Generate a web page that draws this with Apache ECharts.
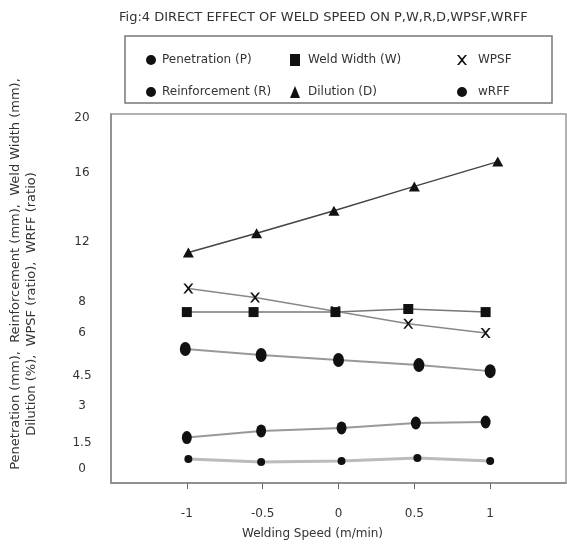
<!DOCTYPE html>
<html>
<head>
<meta charset="utf-8">
<script src="https://cdn.jsdelivr.net/npm/echarts@6/dist/echarts.min.js"></script>
<style>
  html, body { margin: 0; padding: 0; background: #fff; }
  #chart { width: 567px; height: 546px; }
</style>
</head>
<body>
<div id="chart"></div>
<script>
// tick labels of the y axis (the figure uses an uneven scale)
var yTickVals = [0, 1.5, 3, 4.5, 6, 8, 12, 16, 20];
var yTickAt = [14, 40.5, 77.5, 107, 150, 181, 241, 310.5, 365];
var xTicks = [-1, -0.5, 0, 0.5, 1];

// values
var penX = [-0.99, -0.51, 0.02, 0.52, 1.0];
var penY = [0.57, 0.40, 0.45, 0.62, 0.45];
var reiX = [-1.0, -0.51, 0.02, 0.51, 0.97];
var reiY = [1.70, 1.97, 2.09, 2.29, 2.33];
var widX = [-1.0, -0.56, -0.02, 0.46, 0.97];
var widY = [7.35, 7.35, 7.35, 7.55, 7.35];
var dilX = [-0.99, -0.54, -0.03, 0.50, 1.05];
var dilY = [11.3, 12.5, 13.8, 15.2, 16.8];
var wpsfX = [-0.99, -0.55, -0.02, 0.46, 0.97];
var wpsfY = [8.9, 8.3, 7.4, 6.6, 6.0];
var wrffX = [-1.01, -0.51, 0.0, 0.53, 1.0];
var wrffY = [5.44, 5.23, 5.06, 4.88, 4.67];

var FONT = 'DejaVu Sans';
var ELLIPSE = 'path://M0,5a5,5 0 1,0 10,0a5,5 0 1,0 -10,0Z';
var CROSS = 'path://M0,0L2,0L5,3.6L8,0L10,0L6,5L10,10L8,10L5,6.4L2,10L0,10L4,5Z';

// map a value onto the uneven y scale
function toAxis(v) {
    var n = yTickVals.length;
    for (var i = 0; i < n - 1; i++) {
        if (v <= yTickVals[i + 1] || i === n - 2) {
            var t = (v - yTickVals[i]) / (yTickVals[i + 1] - yTickVals[i]);
            return yTickAt[i] + t * (yTickAt[i + 1] - yTickAt[i]);
        }
    }
}
function pts(xs, ys) {
    return xs.map(function (x, i) { return [x, toAxis(ys[i])]; });
}

function lineSeries(name, xs, ys, symbol, size, lineColor, lineWidth) {
    return {
        name: name,
        type: 'line',
        data: pts(xs, ys),
        symbol: symbol,
        symbolSize: size,
        showSymbol: true,
        itemStyle: { color: '#111' },
        lineStyle: { color: lineColor, width: lineWidth },
        z: 3
    };
}

function legendCol(left, items, pad) {
    return {
        orient: 'vertical',
        left: left,
        top: 48,
        itemWidth: 10,
        itemHeight: 12,
        itemGap: 18,
        data: items,
        selectedMode: false,
        textStyle: { fontFamily: FONT, fontSize: 12, color: '#333', lineHeight: 14, padding: [0, 0, 0, pad] },
        itemStyle: { color: '#111' }
    };
}

var dom = document.getElementById('chart');
var myChart = echarts.init(dom);
var option = {
    animation: false,
    textStyle: { fontFamily: FONT },
    title: {
        text: 'Fig:4 DIRECT EFFECT OF WELD SPEED ON P,W,R,D,WPSF,WRFF',
        left: 114,
        top: 6,
        textStyle: { fontFamily: FONT, fontSize: 13, fontWeight: 'normal', color: '#333' }
    },
    legend: [
        legendCol(141, [
            { name: 'Penetration (P)', icon: 'circle' },
            { name: 'Reinforcement (R)', icon: ELLIPSE }
        ], 1),
        legendCol(285, [
            { name: 'Weld Width (W)', icon: 'rect' },
            { name: 'Dilution (D)', icon: 'triangle' }
        ], 3),
        legendCol(452, [
            { name: 'WPSF', icon: CROSS },
            { name: 'wRFF', icon: ELLIPSE }
        ], 6)
    ],
    graphic: [
        {
            type: 'rect',
            shape: { x: 125, y: 36, width: 427, height: 67 },
            style: { fill: 'none', stroke: '#777', lineWidth: 1.5 }
        },
        {
            type: 'text',
            x: 16, y: 274, rotation: Math.PI / 2,
            style: {
                text: 'Penetration (mm),  Reinforcement (mm),  Weld Width (mm),',
                fontFamily: FONT, fontSize: 13, fill: '#333',
                align: 'center', verticalAlign: 'middle'
            }
        },
        {
            type: 'text',
            x: 32, y: 304, rotation: Math.PI / 2,
            style: {
                text: 'Dilution (%),  WPSF (ratio),  WRFF (ratio)',
                fontFamily: FONT, fontSize: 13, fill: '#333',
                align: 'center', verticalAlign: 'middle'
            }
        }
    ],
    grid: {
        left: 111,
        right: 1,
        top: 114,
        bottom: 63,
        show: true,
        borderColor: '#999',
        borderWidth: 1.5
    },
    xAxis: {
        type: 'value',
        min: -1.5,
        max: 1.5,
        name: 'Welding Speed (m/min)',
        nameLocation: 'middle',
        nameGap: 45,
        nameTextStyle: { fontFamily: FONT, fontSize: 12, color: '#333', padding: [0, 52, 0, 0] },
        axisLine: { onZero: false, lineStyle: { color: '#888', width: 1.5 } },
        axisTick: { show: true, customValues: xTicks, length: 6, lineStyle: { color: '#666' } },
        axisLabel: {
            customValues: xTicks,
            margin: 25,
            fontFamily: FONT, fontSize: 12, color: '#333'
        },
        splitLine: { show: false }
    },
    yAxis: {
        type: 'value',
        min: 0,
        max: 369,
        axisLine: { show: true, onZero: false, lineStyle: { color: '#888', width: 1.5 } },
        axisTick: { show: false },
        splitLine: { show: false },
        axisLabel: {
            customValues: yTickAt,
            align: 'center',
            margin: 29,
            fontFamily: FONT, fontSize: 12, color: '#333',
            formatter: function (v) {
                for (var i = 0; i < yTickAt.length; i++) {
                    if (Math.abs(yTickAt[i] - v) < 0.01) return String(yTickVals[i]);
                }
                return '';
            }
        }
    },
    series: [
        lineSeries('Penetration (P)', penX, penY, 'circle', 8, '#bbb', 3),
        lineSeries('Reinforcement (R)', reiX, reiY, ELLIPSE, [10, 13], '#999', 2),
        lineSeries('Weld Width (W)', widX, widY, 'rect', [10, 10], '#777', 1.5),
        lineSeries('Dilution (D)', dilX, dilY, 'triangle', [11, 10], '#444', 1.5),
        lineSeries('WPSF', wpsfX, wpsfY, CROSS, [10, 10], '#888', 1.5),
        lineSeries('wRFF', wrffX, wrffY, ELLIPSE, [11, 14], '#999', 2)
    ]
};
if (option && typeof option === "object") {
    myChart.setOption(option, true);
}
</script>
</body>
</html>
